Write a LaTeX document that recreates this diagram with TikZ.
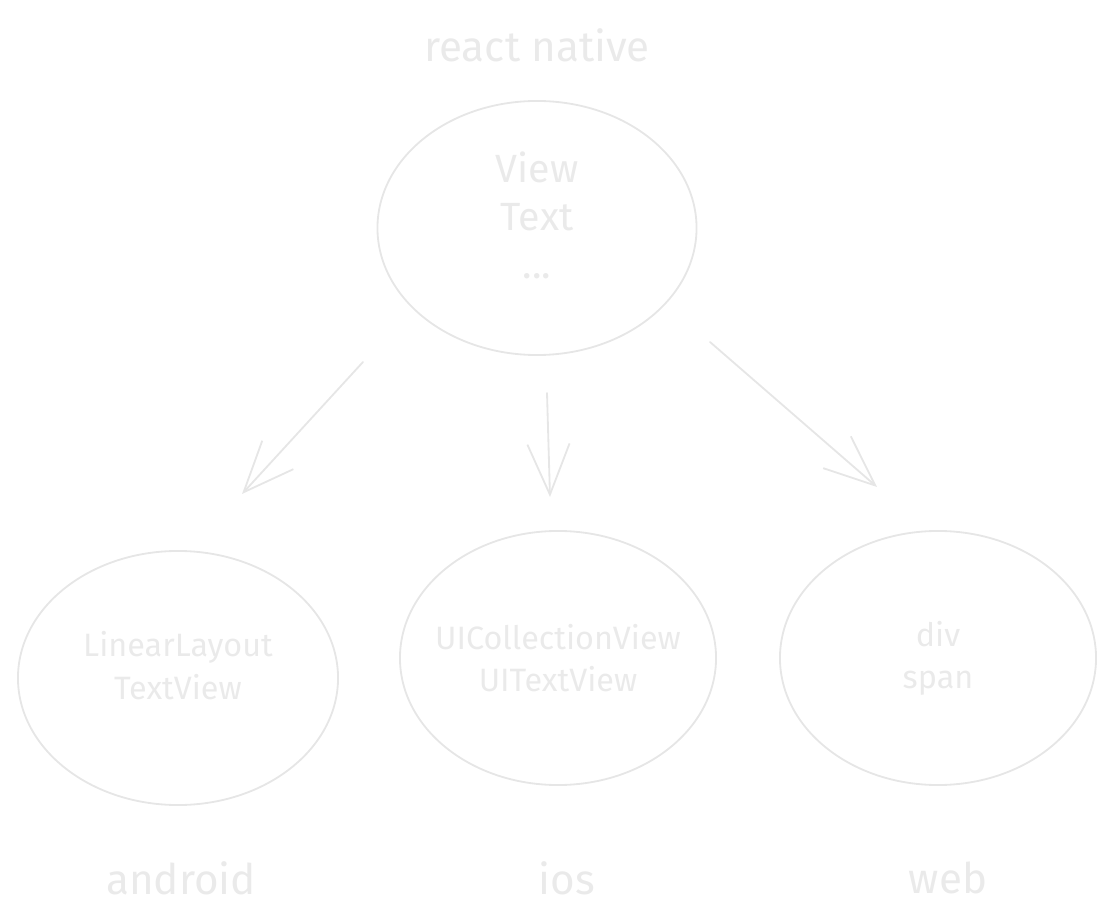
\documentclass[tikz,border=0pt]{standalone}
\usepackage{fontspec}
\setmainfont{Fira Sans}
\definecolor{sketch}{HTML}{E6E6E6}
\definecolor{chalk}{HTML}{EAEAEA}
\usetikzlibrary{shapes.geometric, arrows.meta, positioning}
\tikzset{
  bubble/.style={
    ellipse, draw=sketch, line width=1.3pt, inner xsep=-40pt, inner ysep=-20pt,
    minimum width=#1, minimum height=6.35cm,
    font=\fontsize{23}{30}\selectfont, text=chalk, align=center
  },
  bubble/.default=8cm,
  caption/.style={font=\fontsize{30}{34}\selectfont, text=chalk},
  arr/.style={-{Straight Barb[length=36pt,width=30pt,line width=1.3pt]},
    line width=1.3pt, color=sketch, line cap=round, line join=round},
}
\begin{document}
\begin{tikzpicture}[x=0.025cm, y=-0.025cm]
  \useasboundingbox (0,0) rectangle (1117,924);

  % Top platform
  \node[caption] (rn) at (537,45) {react native};
  \node[bubble=7.975cm, font=\fontsize{28}{34}\selectfont, text depth=18pt]
    (core) at (537,228) {View\\Text\\...};

  % Targets
  \node[bubble, text depth=18pt] (droid) at (178,678) {LinearLayout\\TextView};
  \node[bubble=7.9cm] (apple) at (558,658) {UICollectionView\\UITextView};
  \node[bubble=7.9cm] (browser) at (938,658) {div\\span};

  \node[caption] (android) at (181,878) {android};
  \node[caption] (ios) at (567,878) {ios};
  \node[caption] (web) at (948,878) {web};

  % Arrow ends
  \coordinate (s1) at (363,362);
  \coordinate (e1) at (242,494);
  \coordinate (s2) at (547,393);
  \coordinate (e2) at (550,497);
  \coordinate (s3) at (710,342);
  \coordinate (e3) at (877,487);

  \draw[arr] (s1) -- (e1);
  \draw[arr] (s2) -- (e2);
  \draw[arr] (s3) -- (e3);
\end{tikzpicture}
\end{document}
